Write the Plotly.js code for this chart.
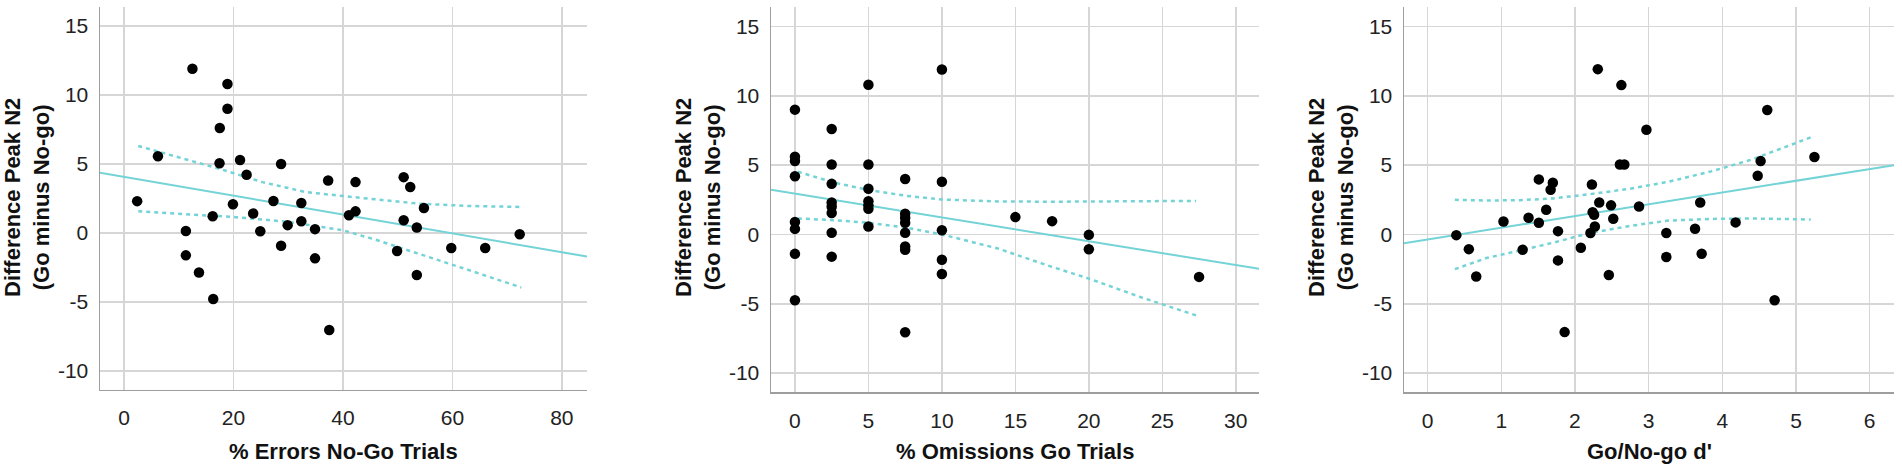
<!DOCTYPE html>
<html>
<head>
<meta charset="utf-8">
<script src="https://cdn.plot.ly/plotly-3.0.1.min.js"></script>
<style>
  html, body { margin: 0; padding: 0; background: #fff; }
  #graph { width: 1902px; height: 473px; }
</style>
</head>
<body>
<div id="graph"></div>
<script>
// panel 1: % errors on no-go trials vs N2 difference
var errPct = [2.4, 6.2, 12.5, 11.3, 11.3, 13.7, 16.2, 16.3, 17.5, 17.45, 18.9, 18.9, 19.9, 21.2,
    22.4, 23.6, 24.9, 27.3, 28.7, 28.7, 29.9, 32.4, 32.4, 34.9, 34.9, 37.3, 37.5, 41.1, 42.3, 42.3,
    49.9, 51.1, 51.1, 52.3, 53.5, 53.5, 54.8, 59.8, 66.0, 72.3];
var errDiff = [2.3, 5.55, 11.9, 0.14, -1.63, -2.88, 1.2, -4.8, 7.6, 5.05, 10.8, 9.0, 2.07, 5.29,
    4.21, 1.4, 0.12, 2.31, 5.0, -0.94, 0.56, 2.16, 0.84, 0.27, -1.85, 3.8, -7.05, 1.28, 1.56, 3.68,
    -1.32, 4.04, 0.92, 3.32, 0.39, -3.05, 1.8, -1.1, -1.1, -0.1];
var errFitX = [-4.4, 84.6];
var errFitY = [4.36, -1.72];
var errCiX = [2.6, 10, 17.5, 25.3, 33.2, 41.7, 53.8, 63, 72.6];
var errCiUpper = [6.3, 5.45, 4.64, 3.68, 2.96, 2.6, 2.12, 1.95, 1.88];
var errCiLowX = [2.6, 10, 20, 30, 40, 46, 53.8, 63, 72.6];
var errCiLower = [1.56, 1.4, 1.15, 0.8, 0.19, -0.5, -1.49, -2.7, -3.96];

// panel 2: % omissions on go trials
var omitPct = [0, 0, 0, 0, 0, 0, 0, 0,
    2.5, 2.5, 2.5, 2.5, 2.5, 2.5, 2.5, 2.5,
    5, 5, 5, 5, 5, 5, 5,
    7.5, 7.5, 7.5, 7.5, 7.5, 7.5, 7.5, 7.5,
    10, 10, 10, 10, 10,
    15, 17.5, 20, 20, 27.5];
var omitDiff = [9.0, 5.6, 5.3, 4.2, 0.9, 0.4, -1.4, -4.75,
    7.6, 5.05, 3.65, 2.3, 2.0, 1.55, 0.12, -1.6,
    10.8, 5.05, 3.3, 2.4, 2.1, 1.85, 0.58,
    4.0, 1.5, 1.2, 0.85, 0.12, -0.87, -1.1, -7.05,
    11.9, 3.8, 0.3, -1.82, -2.85,
    1.25, 0.96, -0.03, -1.07, -3.06];
var omitFitX = [-1.63, 31.6];
var omitFitY = [3.22, -2.48];
var omitCiX = [0.2, 2.7, 5.05, 7.55, 10, 13.8, 17.5, 20, 23.5, 27.3];
var omitCiUpper = [4.52, 3.73, 3.2, 2.79, 2.52, 2.38, 2.36, 2.38, 2.4, 2.42];
var omitCiLower = [1.15, 1.03, 0.84, 0.5, 0.0, -1.01, -2.34, -3.18, -4.51, -5.84];

// panel 3: go/no-go d'
var dPrime = [0.39, 0.56, 0.66, 1.03, 1.29, 1.37, 1.51, 1.51, 1.61, 1.67, 1.70, 1.77, 1.77, 1.86,
    2.08, 2.21, 2.23, 2.24, 2.26, 2.27, 2.31, 2.33, 2.46, 2.49, 2.52, 2.61, 2.63, 2.67, 2.87, 2.97,
    3.24, 3.24, 3.63, 3.70, 3.72, 4.18, 4.48, 4.52, 4.61, 4.71, 5.25];
var dPrimeDiff = [-0.05, -1.06, -3.03, 0.94, -1.1, 1.2, 3.97, 0.84, 1.78, 3.22, 3.73, 0.24, -1.87, -7.04,
    -0.96, 0.1, 3.6, 1.61, 1.42, 0.58, 11.92, 2.31, -2.92, 2.1, 1.13, 5.05, 10.77, 5.05, 2.02, 7.55,
    0.1, -1.63, 0.41, 2.31, -1.39, 0.87, 4.23, 5.29, 8.97, -4.74, 5.58];
var dFitX = [-0.32, 6.33];
var dFitY = [-0.64, 5.0];
var dCiX = [0.37, 0.8, 1.26, 1.7, 2.2, 2.75, 3.27, 3.85, 4.4, 5.2];
var dCiUpper = [2.5, 2.45, 2.47, 2.6, 2.9, 3.3, 3.8, 4.55, 5.4, 7.0];
var dCiLower = [-2.5, -1.7, -1.15, -0.6, 0.1, 0.62, 1.0, 1.12, 1.15, 1.08];

// shared text
var yTickVals = [-10, -5, 0, 5, 10, 15];
var yTickText = ['-10', '-5', '0', '5', '10', '15'];
var xTitles = ['% Errors No-Go Trials', '% Omissions Go Trials', "Go/No-go d'"];
var yTitle = 'Difference Peak N2<br>(Go minus No-go)';

var fitColor = '#74d3d6';
var W = 1902, H = 473;

function points(x, y, n) {
    return {
        x: x, y: y, xaxis: 'x' + n, yaxis: 'y' + n,
        mode: 'markers', type: 'scatter', hoverinfo: 'skip',
        marker: {color: '#000', size: 10.5}
    };
}
function fitLine(x, y, n, dash) {
    return {
        x: x, y: y, xaxis: 'x' + n, yaxis: 'y' + n,
        mode: 'lines', type: 'scatter', hoverinfo: 'skip',
        line: {color: fitColor, width: dash ? 2.5 : 2, dash: dash || 'solid'}
    };
}

var dotDash = '4px,4px';
var chartData = [
    fitLine(errCiX, errCiUpper, '', dotDash),
    fitLine(errCiLowX, errCiLower, '', dotDash),
    fitLine(errFitX, errFitY, ''),
    points(errPct, errDiff, ''),
    fitLine(omitCiX, omitCiUpper, 2, dotDash),
    fitLine(omitCiX, omitCiLower, 2, dotDash),
    fitLine(omitFitX, omitFitY, 2),
    points(omitPct, omitDiff, 2),
    fitLine(dCiX, dCiUpper, 3, dotDash),
    fitLine(dCiX, dCiLower, 3, dotDash),
    fitLine(dFitX, dFitY, 3),
    points(dPrime, dPrimeDiff, 3)
];

var tickFont = {family: 'Liberation Sans, Arial, sans-serif', size: 21, color: '#222'};
var titleFont = {family: 'Liberation Sans, Arial, sans-serif', size: 22, color: '#111', weight: 'bold'};

function xAxis(left, right, range, dtick, anchor) {
    return {
        domain: [left / W, right / W], range: range, anchor: anchor,
        tickmode: 'linear', tick0: 0, dtick: dtick,
        showgrid: true, gridcolor: '#d6d6d6', gridwidth: 1.5, zeroline: false,
        showline: true, linecolor: '#9e9e9e', linewidth: 1.5,
        ticks: '', ticklabelstandoff: 9, tickfont: tickFont, fixedrange: true
    };
}
function yAxis(top, bottom, anchor) {
    return {
        domain: [(H - bottom) / H, (H - top) / H], range: [-11.36, 16.38], anchor: anchor,
        tickmode: 'array', tickvals: yTickVals, ticktext: yTickText,
        showgrid: true, gridcolor: '#d6d6d6', gridwidth: 1.5, zeroline: false,
        showline: true, linecolor: '#9e9e9e', linewidth: 1.5,
        ticks: '', ticklabelstandoff: 6, tickfont: tickFont, fixedrange: true
    };
}

var panels = [[100, 587], [771, 1259], [1404, 1894]];
var annotations = [];
panels.forEach(function(p, i) {
    annotations.push({
        xref: 'paper', yref: 'paper', x: (p[0] + p[1]) / 2 / W, y: (H - 451) / H,
        xanchor: 'center', yanchor: 'middle', showarrow: false,
        text: xTitles[i], font: titleFont
    });
    annotations.push({
        xref: 'paper', yref: 'paper', x: (p[0] - 73) / W, y: (H - 198) / H,
        xanchor: 'center', yanchor: 'middle', showarrow: false, textangle: -90,
        text: yTitle, font: titleFont
    });
});

var layout = {
    width: W, height: H,
    margin: {l: 0, r: 0, t: 0, b: 0},
    paper_bgcolor: '#fff', plot_bgcolor: '#fff',
    showlegend: false,
    xaxis: xAxis(100, 587, [-4.39, 84.6], 20, 'y'),
    yaxis: yAxis(7, 389.5, 'x'),
    xaxis2: xAxis(771, 1259, [-1.63, 31.58], 5, 'y2'),
    yaxis2: yAxis(7.3, 392, 'x2'),
    xaxis3: xAxis(1404, 1894, [-0.32, 6.33], 1, 'y3'),
    yaxis3: yAxis(7.3, 392, 'x3'),
    annotations: annotations
};

Plotly.newPlot('graph', chartData, layout, {staticPlot: true});
</script>
</body>
</html>
